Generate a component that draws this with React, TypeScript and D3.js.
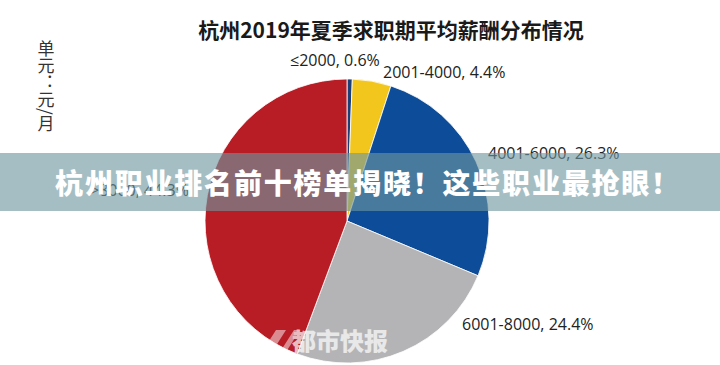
import React from "react";
import * as d3 from "d3";

const categories = ["≤2000", "2001-4000", "4001-6000", "6001-8000", ">8000"];
const shares = [0.6, 4.4, 26.3, 24.4, 44.3];
const sliceColors = ["#1d3f78", "#f2c61c", "#0d4c98", "#b4b4b6", "#b81d25"];
const labelText = ["≤2000, 0.6%", "2001-4000, 4.4%", "4001-6000, 26.3%", "6001-8000, 24.4%", ">8000, 44.3%"];
const labelPos: [number, number][] = [[290, 66], [383, 78], [488, 159], [462, 330], [90, 196]];

const titleText = "杭州2019年夏季求职期平均薪酬分布情况";
const unitText = "单元：元/月";
const bannerText = "杭州职业排名前十榜单揭晓！这些职业最抢眼！";
const watermarkText = "都市快报";

export default function App() {
  const W = 720, H = 365;
  const cx = 347, cy = 221, r = 142;
  const pie = d3.pie<number>().sort(null).value((d) => d);
  const arcs = pie(shares);
  const arcGen = d3.arc<d3.PieArcDatum<number>>().innerRadius(0).outerRadius(r);
  const font = "'Noto Sans CJK SC', 'Noto Sans', sans-serif";
  const labelFont = "'Open Sans', 'Noto Sans CJK SC', sans-serif";
  return (
    <svg width={W} height={H} style={{ position: "absolute", left: 0, top: 0, background: "#fff" }}>
      <rect x={0} y={0} width={W} height={H} fill="#fff" />
      <text x={391} y={38} textAnchor="middle" fontFamily={font} fontWeight={700} fontSize={21} fill="#1a1a1a">
        {titleText}
      </text>
      <text
        x={46}
        y={40}
        fontFamily={font}
        fontSize={17}
        fill="#333"
        style={{ writingMode: "vertical-rl" as any }}
      >
        {unitText}
      </text>
      <g transform={`translate(${cx},${cy})`}>
        {arcs.map((a, i) => (
          <path key={categories[i]} d={arcGen(a) || ""} fill={sliceColors[i]} stroke="#fff" strokeWidth={0.8} />
        ))}
      </g>
      {labelText.map((t, i) => (
        <text key={t} x={labelPos[i][0]} y={labelPos[i][1]} fontFamily={labelFont} fontSize={16} fill="#222">
          {t}
        </text>
      ))}
      <g opacity={0.7}>
        <path d="M262,352 L276,330 L286,330 L272,352 Z M280,352 L294,330 L300,330 L286,352 Z" fill="#fff" opacity={0.7} />
        <text x={292} y={350} fontFamily={font} fontWeight={900} fontSize={24} fill="#fff">
          {watermarkText}
        </text>
      </g>
      <rect x={0} y={153} width={W} height={58} fill="rgb(110,150,160)" opacity={0.62} />
      <text x={368} y={194} textAnchor="middle" fontFamily={font} fontWeight={900} fontSize={28} fill="#fff" letterSpacing={1.8}>
        {bannerText}
      </text>
    </svg>
  );
}
